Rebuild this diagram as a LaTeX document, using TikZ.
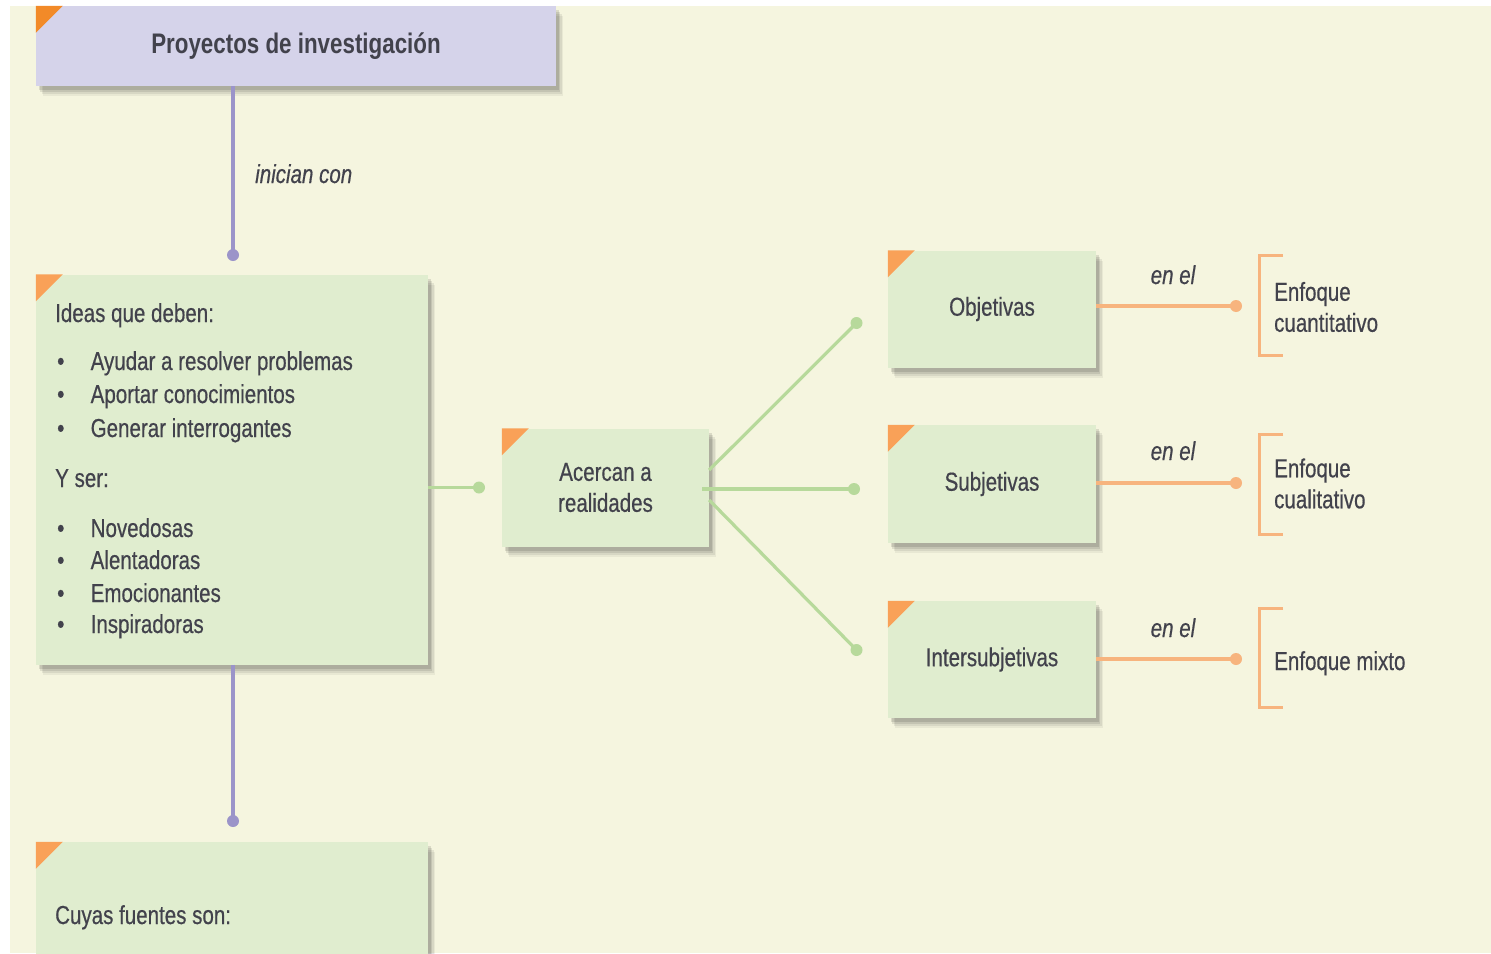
\documentclass[tikz,border=0pt]{standalone}
\usepackage{fontspec}
\setmainfont{Liberation Sans}[FakeStretch=0.79,UprightFeatures={FakeBold=0.5},ItalicFeatures={FakeBold=0.5}]
\usetikzlibrary{shadows,calc}
\definecolor{bgc}{HTML}{F5F5DF}
\definecolor{lav}{HTML}{D5D3EA}
\definecolor{boxg}{HTML}{E0EDCF}
\definecolor{txtc}{HTML}{42424C}
\definecolor{purp}{HTML}{9B94C9}
\definecolor{grn}{HTML}{B7D99B}
\definecolor{orl}{HTML}{F7B47E}
\definecolor{ortop}{HTML}{F28A28}
\definecolor{ortri}{HTML}{F9A158}
\newcommand\myfs{\fontsize{26}{31}\selectfont}
\newcommand\myit{\fontsize{26}{31}\selectfont\itshape}
\newcommand\mytitle{\fontsize{28.3}{33}\selectfont\bfseries}
\begin{document}
\begin{tikzpicture}[x=1pt,y=-1pt,
  txt/.style={text=txtc, font=\myfs, inner sep=0pt},
  shadowed/.style={
    drop shadow={shadow xshift=7pt,shadow yshift=-10pt,opacity=.05,fill=black},
    drop shadow={shadow xshift=5.5pt,shadow yshift=-8pt,opacity=.07,fill=black},
    drop shadow={shadow xshift=4pt,shadow yshift=-6pt,opacity=.09,fill=black},
    drop shadow={shadow xshift=2.5pt,shadow yshift=-4pt,opacity=.11,fill=black}},
  box/.style={fill=boxg, shadowed, txt},
  tri/.style={fill=ortri},
  pline/.style={draw=purp, line width=4pt},
  gline/.style={draw=grn, line width=3.2pt},
  oline/.style={draw=orl, line width=3.5pt},
  obr/.style={draw=orl, line width=3pt},
  pdot/.style={fill=purp},
  gdot/.style={fill=grn},
  odot/.style={fill=orl}]
\useasboundingbox (0,0) rectangle (1491,953);
\clip (0,0) rectangle (1491,953);
\fill[white] (0,0) rectangle (1491,953);
\fill[bgc] (10,6) rectangle (1491,953);

% boxes
\node[box, fill=lav, minimum width=520pt, minimum height=80pt, font=\mytitle] (top) at (296,46) {Proyectos de investigación};
\node[box, minimum width=392pt, minimum height=390pt] (ideas) at (232,469.5) {};
\node[box, minimum width=207pt, minimum height=118pt, align=center] (acer) at (605.5,487.5) {Acercan a\\realidades};
\node[box, minimum width=208pt, minimum height=117pt] (obj) at (992,309) {Objetivas};
\node[box, minimum width=208pt, minimum height=118pt] (subj) at (992,484) {Subjetivas};
\node[box, minimum width=208pt, minimum height=117pt] (inter) at (992,659.5) {Intersubjetivas};
\node[box, minimum width=392pt, minimum height=200pt] (src) at (232,942) {};

% corner triangles
\fill[ortop] (top.north west) -- ++(27,0) -- ++(-27,27) -- cycle;
\foreach \n in {ideas,acer,obj,subj,inter,src}
  \fill[tri] (\n.north west) -- ++(27,0) -- ++(-27,27) -- cycle;

% ideas box texts
\node[txt, anchor=base west] (h1) at (55,322) {Ideas que deben:};
\foreach \y/\t [count=\i] in {370/Ayudar a resolver problemas,403/Aportar conocimientos,437/Generar interrogantes,537/Novedosas,569/Alentadoras,602/Emocionantes,633/Inspiradoras}{
  \node[txt, anchor=base west] (b\i) at (57,\y) {\textbullet};
  \node[txt, anchor=base west] (l\i) at (90.5,\y) {\t};
}
\node[txt, anchor=base west] (h2) at (55,487) {Y ser:};
\node[txt, anchor=base west] (h3) at (55,924) {Cuyas fuentes son:};

% purple connectors
\coordinate (pd1) at (233,255);
\coordinate (pd2) at (233,821);
\draw[pline] (top.south -| pd1) -- (pd1);
\fill[pdot] (pd1) circle (6);
\draw[pline] (ideas.south -| pd2) -- (pd2);
\fill[pdot] (pd2) circle (6);
\node[txt, font=\myit, anchor=base west] (lab1) at (255,183) {inician con};

% green connectors
\coordinate (gd0) at (479,487.5);
\coordinate (gd1) at (856.5,323);
\coordinate (gd2) at (854,489);
\coordinate (gd3) at (856.5,650);
\draw[gline] (ideas.east |- gd0) -- (gd0);
\fill[gdot] (gd0) circle (6);
\draw[gline] ($(acer.east)+(0,-17.5)$) -- (gd1);
\draw[gline] ($(acer.east)+(-7,1.5)$) -- (gd2);
\draw[gline] ($(acer.east)+(0,12.5)$) -- (gd3);
\foreach \c in {gd1,gd2,gd3} \fill[gdot] (\c) circle (6);

% orange connectors
\coordinate (od1) at (1236,306);
\coordinate (od2) at (1236,483);
\coordinate (od3) at (1236,659);
\draw[oline] (obj.east |- od1) -- (od1);
\draw[oline] (subj.east |- od2) -- (od2);
\draw[oline] (inter.east |- od3) -- (od3);
\foreach \c in {od1,od2,od3} \fill[odot] (\c) circle (6);
\node[txt, font=\myit, anchor=base] (e1) at (1173,284) {en el};
\node[txt, font=\myit, anchor=base] (e2) at (1173,460) {en el};
\node[txt, font=\myit, anchor=base] (e3) at (1173,637) {en el};

% brackets
\draw[obr] (1283,255) -| (1259,355) -- (1283,355);
\draw[obr] (1283,434) -| (1259,534) -- (1283,534);
\draw[obr] (1283,608) -| (1259,707) -- (1283,707);
\node[txt, anchor=west, align=left] (f1) at (1274,307) {Enfoque\\cuantitativo};
\node[txt, anchor=west, align=left] (f2) at (1274,483.5) {Enfoque\\cualitativo};
\node[txt, anchor=base west] (f3) at (1274,670) {Enfoque mixto};
\end{tikzpicture}
\end{document}
